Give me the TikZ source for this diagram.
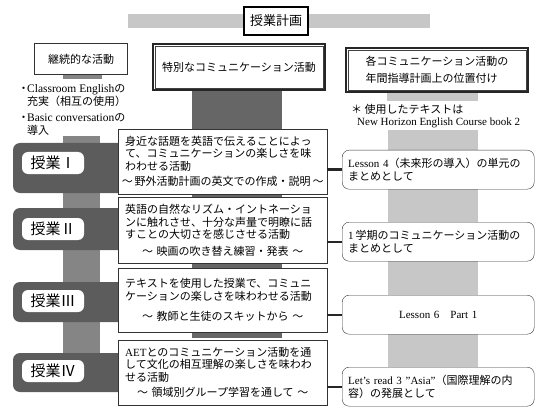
\documentclass[tikz,border=0pt]{standalone}
\usepackage{fontspec}
\setmainfont{Liberation Serif}
\newfontfamily\jp{Noto Sans CJK JP}
\usepackage{tikz}
\usetikzlibrary{positioning}

\newcommand{\wave}[1]{\hbox to 195pt{\hss ～#1～\hss}}

\begin{document}
\begin{tikzpicture}[x=1pt, y=-1pt,
  lightbar/.style={fill=black!22},
  darkbar/.style={fill=black!60},
  sidebar/.style={fill=black!48},
  block/.style={fill=black!64, rounded corners=7pt},
  lesson/.style={fill=white, rounded corners=6pt, minimum width=62pt, minimum height=22pt, inner sep=2pt, font=\jp\fontsize{15}{17}\selectfont},
  head/.style={draw=black!85, fill=white, line width=1.1pt, align=left, font=\jp\fontsize{11}{17}\selectfont},
  inner/.style={draw=black!75, line width=0.5pt},
  activity/.style={draw=black!80, fill=white, anchor=north west, text width=195pt, inner sep=7pt, align=left, font=\jp\fontsize{11}{12.5}\selectfont},
  target/.style={draw=black!80, fill=white, rounded corners=7pt, anchor=north west, text width=180pt, minimum height=39pt, inner sep=6pt, align=left, font=\jp\fontsize{11}{13}\selectfont},
  link/.style={line width=2.4pt, black!85}]
\useasboundingbox (0,0) rectangle (540,414);

\fill[lightbar] (128,14) rectangle (430,28);
\fill[lightbar] (387,93) rectangle (478,101);
\fill[lightbar] (388,130) rectangle (478,372);
\fill[sidebar] (63,75) rectangle (102,79);
\fill[sidebar] (63,136) rectangle (100,372);
\fill[darkbar] (192,90) rectangle (282,338);

\fill[block] (13,143) rectangle (130,193);
\fill[block] (13,208) rectangle (130,250);
\fill[block] (13,282) rectangle (130,322);
\fill[block] (13,353) rectangle (130,392);

\node[draw, line width=1.6pt, fill=white, minimum width=64pt, minimum height=28pt, font=\jp\fontsize{13}{15}\selectfont] (title) at (276,21) {授業計画};

\node[draw=black!80, fill=white, minimum width=93pt, minimum height=31pt, font=\jp\fontsize{11}{13}\selectfont] (keep) at (81,59) {継続的な活動};
\node[head, minimum width=172pt, minimum height=46pt] (special) at (239,67) {特別なコミュニケーション活動};
\draw[inner] ([shift={(2.6pt,-2.6pt)}]special.north west) rectangle ([shift={(-2.6pt,2.6pt)}]special.south east);
\node[head, minimum width=182pt, minimum height=44pt] (place) at (437,70) {各コミュニケーション活動の\\年間指導計画上の位置付け};
\draw[inner] ([shift={(2.6pt,-2.6pt)}]place.north west) rectangle ([shift={(-2.6pt,2.6pt)}]place.south east);

\node[anchor=north west, align=left, inner sep=0pt, font=\jp\fontsize{11}{13}\selectfont] (habit) at (18,84)
  {\makebox[9pt][l]{・}{\rmfamily\fontsize{11.5}{13}\selectfont Classroom English}の\\
   \hspace*{9pt}充実（相互の使用）\\[3pt]
   \makebox[9pt][l]{・}{\rmfamily\fontsize{11.5}{13}\selectfont Basic conversation}の\\
   \hspace*{9pt}導入};
\node[anchor=north west, align=left, inner sep=0pt, font=\jp\fontsize{11}{12.5}\selectfont] (note) at (351,104)
  {＊ 使用したテキストは\\
   \hspace*{6pt}{\rmfamily New Horizon English Course book 2}};

\node[lesson] (l1) at (53,163) {授業Ⅰ};
\node[lesson] (l2) at (53,229) {授業Ⅱ};
\node[lesson] (l3) at (53,301) {授業Ⅲ};
\node[lesson] (l4) at (53,371) {授業Ⅳ};

\node[activity, minimum height=61pt] (m1) at (118,129)
  {身近な話題を英語で伝えることによっ\\て、コミュニケーションの楽しさを味\\わわせる活動\\[3pt]
   \wave{\,野外活動計画の英文での作成・説明\,}};
\node[activity, minimum height=64pt] (m2) at (118,197)
  {英語の自然なリズム・イントネーショ\\ンに触れさせ、十分な声量で明瞭に話\\すことの大切さを感じさせる活動\\[4pt]
   \wave{\ 映画の吹き替え練習・発表\ }};
\node[activity, minimum height=64pt] (m3) at (118,268)
  {テキストを使用した授業で、コミュニ\\ケーションの楽しさを味わわせる活動\\[8pt]
   \wave{\ 教師と生徒のスキットから\ }};
\node[activity, minimum height=62pt] (m4) at (118,340)
  {{\rmfamily AET}とのコミュニケーション活動を通\\して文化の相互理解の楽しさを味わわ\\せる活動\\[3pt]
   \wave{\ 領域別グループ学習を通して\ }};

\node[target] (r1) at (342,150) {{\rmfamily Lesson 4}（未来形の導入）の単元の\\まとめとして};
\node[target] (r2) at (342,222) {{\rmfamily 1}\,学期のコミュニケーション活動の\\まとめとして};
\node[target, align=center] (r3) at (342,295) {\rmfamily Lesson 6\quad Part 1};
\node[target] (r4) at (342,367) {{\rmfamily Let's read 3 "Asia"}（国際理解の内\\容）の発展として};

\draw[link] (m1.east |- r1.west) -- (r1.west);
\draw[link] (m2.east |- r2.west) -- (r2.west);
\draw[link] (m3.east |- r3.west) -- (r3.west);
\draw[link] (m4.east |- r4.west) -- (r4.west);
\end{tikzpicture}
\end{document}
